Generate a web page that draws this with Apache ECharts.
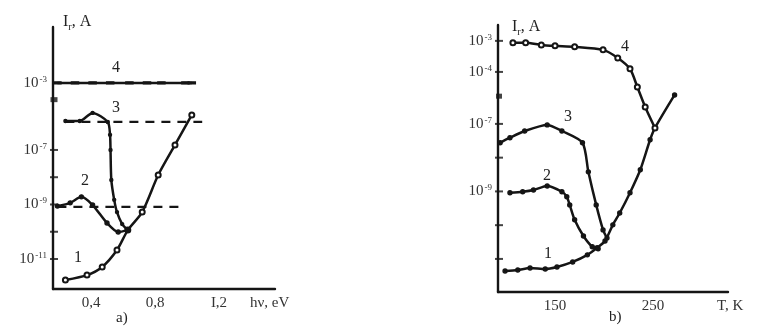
<!DOCTYPE html>
<html>
<head>
<meta charset="utf-8">
<script src="https://cdn.jsdelivr.net/npm/echarts@6/dist/echarts.min.js"></script>
<style>
html,body{margin:0;padding:0;background:#fff;}
#c{width:762px;height:328px;}
</style>
</head>
<body>
<div id="c"></div>
<script>
// ---------- Panel a) : photocurrent vs photon energy (log10 I, A) ----------
const hvA1 = [0.24, 0.375, 0.47, 0.5625, 0.63, 0.72, 0.82, 0.925, 1.03];
const lgIA1 = [-11.77, -11.59, -11.29, -10.67, -9.94, -9.28, -7.92, -6.70, -4.91];
const hvA2 = [0.19, 0.27, 0.34, 0.41, 0.50, 0.57, 0.63];
const lgIA2 = [-9.06, -8.94, -8.72, -9.02, -9.68, -10.01, -9.94];
const hvA3 = [0.24, 0.33, 0.41, 0.505, 0.519, 0.522, 0.527, 0.545, 0.5625, 0.595, 0.63];
const lgIA3 = [-5.27, -5.27, -4.79, -5.33, -6.1, -7.0, -8.1, -8.83, -9.28, -9.72, -9.94];
const hvA4 = [0.19, 0.30, 0.41, 0.52, 0.64, 0.75, 0.84, 0.99, 1.03];
const lgIA4 = [-3.0, -3.0, -3.0, -3.0, -3.0, -3.0, -3.0, -3.0, -3.0];
const dashA3 = { hv: [0.24, 1.095], lgI: -5.33 };
const dashA2 = { hv: [0.19, 0.97], lgI: -9.09 };
const xLabelsA = [0.4, 0.8, 1.2];
const yLabelExpA = [-3, -7, -9, -11];
const yTickExpA = [-7, -8, -9, -10, -11];
const yMarkExpA = [-4];

// ---------- Panel b) : photocurrent vs temperature ----------
const tB1 = [99, 112, 124.5, 140, 152, 168, 183, 193, 201, 209, 216, 226.5, 237, 247, 252, 272];
const lgIB1 = [-11.36, -11.33, -11.27, -11.30, -11.24, -11.09, -10.88, -10.67, -10.47, -9.99, -9.64, -9.04, -8.36, -7.47, -7.12, -5.33];
const tB2 = [104, 117, 128, 142, 157, 162, 165, 170, 179, 188, 194];
const lgIB2 = [-9.04, -9.01, -8.96, -8.84, -9.01, -9.16, -9.40, -9.84, -10.32, -10.64, -10.70];
const tB3 = [94, 104, 119, 142, 157, 178, 184, 192, 199, 203];
const lgIB3 = [-7.56, -7.41, -7.21, -7.03, -7.21, -7.56, -8.42, -9.40, -10.14, -10.38];
const tB4 = [107, 120, 136, 150, 170, 199, 214, 226.5, 234, 242, 252];
const lgIB4 = [-3.06, -3.06, -3.13, -3.16, -3.19, -3.29, -3.55, -3.90, -4.87, -6.02, -7.12];
const xLabelsB = [150, 250];
const yLabelExpB = [-3, -4, -7, -9];
const yTickExpB = [-3, -4, -7, -8, -9, -10, -11];
const yMarkExpB = [-5.4];

// broken (non-uniform) vertical scales of the original figure: exponent knots -> axis units
const knotsA = { e: [-11, -7, -3], u: [-11, -7, -4.54] };
const knotsB = { e: [-11, -7, -4, -3], u: [-11, -7, -5.46, -4.54] };

function toU(e, k) {
  const n = k.e.length;
  let i = 0;
  if (e <= k.e[0]) i = 0;
  else if (e >= k.e[n - 1]) i = n - 2;
  else { while (i < n - 2 && e > k.e[i + 1]) i++; }
  const t = (e - k.e[i]) / (k.e[i + 1] - k.e[i]);
  return k.u[i] + t * (k.u[i + 1] - k.u[i]);
}
function fromU(u, k) {
  const n = k.u.length;
  let i = 0;
  if (u <= k.u[0]) i = 0;
  else if (u >= k.u[n - 1]) i = n - 2;
  else { while (i < n - 2 && u > k.u[i + 1]) i++; }
  const t = (u - k.u[i]) / (k.u[i + 1] - k.u[i]);
  return k.e[i] + t * (k.e[i + 1] - k.e[i]);
}
function pts(xs, ys, k) { return xs.map((x, i) => [x, toU(ys[i], k)]); }

const FONT = '"Liberation Serif", "DejaVu Serif", serif';
const INK = '#151515';

function yAxisCfg(gi, k, labelExp, min, max, nameGap, namePadLeft) {
  return {
    gridIndex: gi, type: 'value', min: min, max: max,
    splitLine: { show: false },
    axisLine: { show: true, lineStyle: { color: INK, width: 2.4 } },
    axisTick: { show: false },
    axisLabel: {
      show: true, margin: 6,
      customValues: labelExp.map(e => toU(e, k)),
      formatter: function (v) {
        const e = Math.round(fromU(v, k));
        return '{n|10}{s|-' + Math.abs(e) + '}';
      },
      rich: {
        n: { fontFamily: FONT, fontSize: 15, color: '#333', lineHeight: 16 },
        s: { fontFamily: FONT, fontSize: 9, color: '#333', verticalAlign: 'top', lineHeight: 16, padding: [0, 0, 6, 1] }
      }
    },
    name: 'I{r|r}, A',
    nameLocation: 'end', nameGap: nameGap,
    nameTextStyle: {
      fontFamily: FONT, fontSize: 16, color: '#222', align: 'left', verticalAlign: 'middle',
      padding: [0, 0, 0, namePadLeft],
      rich: { r: { fontFamily: FONT, fontSize: 10, color: '#222', padding: [10, 0, 0, 0] } }
    }
  };
}

function xAxisCfg(gi, min, max, labels, fmt, name, nameGap) {
  return {
    gridIndex: gi, type: 'value', min: min, max: max,
    splitLine: { show: false },
    axisLine: { show: true, onZero: false, lineStyle: { color: INK, width: 2.4 } },
    axisTick: { show: false },
    axisLabel: { show: true, margin: 7, customValues: labels, formatter: fmt,
      fontFamily: FONT, fontSize: 15, color: '#333' },
    name: name, nameLocation: 'end', nameGap: nameGap,
    nameTextStyle: { fontFamily: FONT, fontSize: 15, color: '#333', align: 'left', verticalAlign: 'top', padding: [7, 0, 0, 0] }
  };
}

function curve(xi, yi, data, symbol, size) {
  return {
    type: 'line', xAxisIndex: xi, yAxisIndex: yi, data: data,
    smooth: 0.25, symbol: symbol, symbolSize: size,
    lineStyle: { color: INK, width: 2.5 },
    itemStyle: { color: INK, borderColor: INK, borderWidth: 1.4 },
    z: 3, animation: false
  };
}
function dashed(xi, yi, d, k) {
  return {
    type: 'line', xAxisIndex: xi, yAxisIndex: yi,
    data: [[d.hv[0], toU(d.lgI, k)], [d.hv[1], toU(d.lgI, k)]],
    symbol: 'none', lineStyle: { color: INK, width: 2.2, type: [9, 7] }, z: 2, animation: false
  };
}
// short ticks across the y axis, placed through the axis scale
function ticks(xi, yi, xmin, exps, k, size) {
  return {
    type: 'scatter', xAxisIndex: xi, yAxisIndex: yi,
    data: exps.map(e => [xmin, toU(e, k)]),
    symbol: 'rect', symbolSize: size, symbolOffset: [1, 0],
    itemStyle: { color: INK }, clip: false, silent: true, z: 4, animation: false
  };
}

const fmtA = v => (Math.round(v * 10) / 10).toFixed(1).replace('.', ',').replace(/^1/, 'I');
const fmtB = v => String(v);

const txt = (x, y, s, size) => ({ type: 'text', left: x, top: y,
  style: { text: s, font: (size || 16) + 'px "Liberation Serif", serif', fill: '#222' } });

const XMIN_A = 0.1625, XMIN_B = 91.8;

const option = {
  backgroundColor: '#fff',
  animation: false,
  grid: [
    { left: 53, top: 27, width: 222, height: 262 },
    { left: 498, top: 25, width: 230, height: 267 }
  ],
  xAxis: [
    xAxisCfg(0, XMIN_A, 1.55, xLabelsA, fmtA, 'hν, eV', -25),
    xAxisCfg(1, XMIN_B, 326.5, xLabelsB, fmtB, 'T, K', -11)
  ],
  yAxis: [
    yAxisCfg(0, knotsA, yLabelExpA, -12.10, -2.49, 5, 10),
    yAxisCfg(1, knotsB, yLabelExpB, -11.98, -4.07, -2, 14)
  ],
  series: [
    ticks(0, 0, XMIN_A, yTickExpA, knotsA, [8, 2]),
    ticks(0, 0, XMIN_A, yMarkExpA, knotsA, [7, 5]),
    ticks(1, 1, XMIN_B, yTickExpB, knotsB, [8, 2]),
    ticks(1, 1, XMIN_B, yMarkExpB, knotsB, [6, 5]),
    dashed(0, 0, dashA3, knotsA),
    dashed(0, 0, dashA2, knotsA),
    curve(0, 0, pts(hvA1, lgIA1, knotsA), 'emptyCircle', 5),
    curve(0, 0, pts(hvA2, lgIA2, knotsA), 'circle', 4),
    curve(0, 0, pts(hvA3, lgIA3, knotsA), 'circle', 3),
    curve(0, 0, pts(hvA4, lgIA4, knotsA), 'rect', [5, 2]),
    curve(1, 1, pts(tB1, lgIB1, knotsB), 'circle', 4),
    curve(1, 1, pts(tB2, lgIB2, knotsB), 'circle', 4),
    curve(1, 1, pts(tB3, lgIB3, knotsB), 'circle', 4),
    curve(1, 1, pts(tB4, lgIB4, knotsB), 'emptyCircle', 5)
  ],
  graphic: [
    txt(74, 250, '1'), txt(81, 173, '2'), txt(112, 100, '3'), txt(112, 60, '4'),
    txt(544, 246, '1'), txt(543, 168, '2'), txt(564, 109, '3'), txt(621, 39, '4'),
    txt(116, 311, 'a)', 15), txt(609, 310, 'b)', 15)
  ]
};

const chart = echarts.init(document.getElementById('c'), null, { renderer: 'canvas' });
chart.setOption(option);
</script>
</body>
</html>
